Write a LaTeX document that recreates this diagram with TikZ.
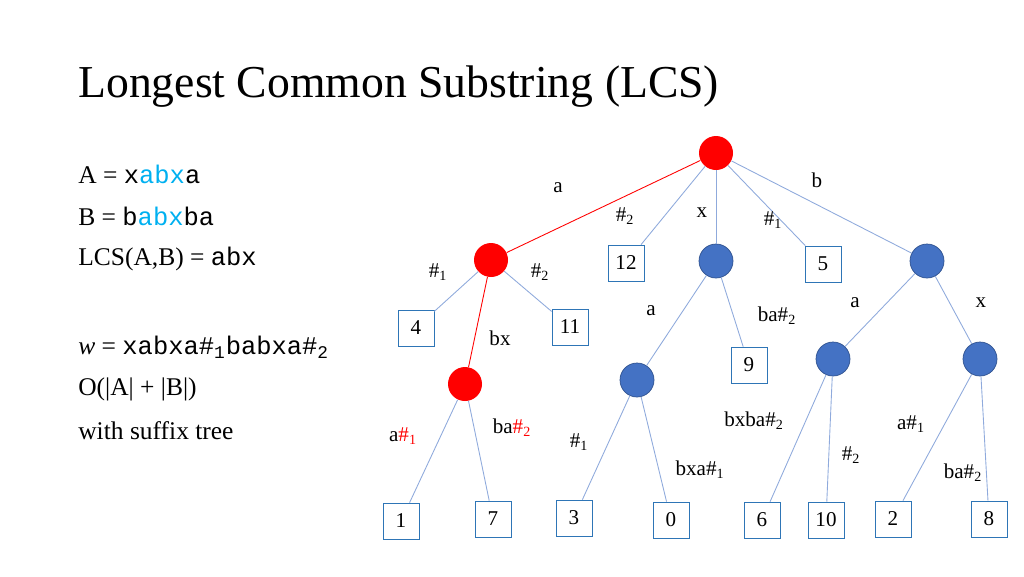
\documentclass[tikz,border=0pt]{standalone}
\usepackage{fontspec}
\setmainfont{Liberation Serif}
\setmonofont{Liberation Mono}
\begin{document}
\begin{tikzpicture}[x=0.02cm,y=-0.02cm,
  rn/.style={circle,fill=red,minimum size=0.68cm,inner sep=0},
  bn/.style={circle,fill={rgb,255:red,68;green,114;blue,196},draw={rgb,255:red,47;green,82;blue,143},minimum size=0.68cm,inner sep=0},
  lf/.style={draw={rgb,255:red,46;green,117;blue,182},minimum size=0.72cm,inner sep=0,font=\fontsize{12}{14}\selectfont},
  e/.style={draw={rgb,255:red,143;green,170;blue,220},line width=0.5pt},
  er/.style={draw=red,line width=0.5pt},
  lb/.style={font=\fontsize{12}{14}\selectfont,inner sep=1pt},
  tx/.style={anchor=west,font=\fontsize{14.5}{17}\selectfont,inner sep=0}]
\definecolor{lc}{RGB}{0,176,240}
\useasboundingbox (0,0) rectangle (1024,576);
\node[anchor=west,font=\fontsize{26}{31}\selectfont,inner sep=0] (title) at (78,87) {Longest Common Substring (LCS)};
\node[tx] (ta) at (78,174) {A = \texttt{x\textcolor{lc}{abx}a}};
\node[tx] (tb) at (78,216) {B = \texttt{b\textcolor{lc}{abx}ba}};
\node[tx] (tc) at (78,259) {LCS(A,B) = \texttt{abx}};
\node[tx] (tw) at (78,347) {\textit{w} = \texttt{xabxa\#\textsubscript{1}babxa\#\textsubscript{2}}};
\node[tx] (to) at (78,389) {O(|A| + |B|)};
\node[tx] (ts) at (78,431) {with suffix tree};
% internal nodes
\node[rn] (r) at (716,153) {};
\node[rn] (r1) at (491,260) {};
\node[rn] (r2) at (465,384) {};
\node[bn] (b1) at (716,261) {};
\node[bn] (b2) at (927,261) {};
\node[bn] (b3) at (637,380) {};
\node[bn] (b4) at (833,359) {};
\node[bn] (b5) at (980,359) {};
% leaves
\node[lf] (l12) at (626,263) {12};
\node[lf] (l5) at (823,264) {5};
\node[lf] (l4) at (416,328) {4};
\node[lf] (l11) at (570,327) {11};
\node[lf] (l9) at (749,365) {9};
\node[lf] (l1) at (401,521) {1};
\node[lf] (l7) at (493,519) {7};
\node[lf] (l3) at (574,518) {3};
\node[lf] (l0) at (671,520) {0};
\node[lf] (l6) at (762,520) {6};
\node[lf] (l10) at (826,520) {10};
\node[lf] (l2) at (893,519) {2};
\node[lf] (l8) at (989,519) {8};
% edges
\draw[er] (r) -- (r1);
\draw[er] (r1) -- (r2);
\draw[e] (r) -- (l12); \draw[e] (r) -- (b1); \draw[e] (r) -- (l5); \draw[e] (r) -- (b2);
\draw[e] (r1) -- (l4); \draw[e] (r1) -- (l11);
\draw[e] (r2) -- (l1); \draw[e] (r2) -- (l7);
\draw[e] (b1) -- (b3); \draw[e] (b1) -- (l9);
\draw[e] (b3) -- (l3); \draw[e] (b3) -- (l0);
\draw[e] (b2) -- (b4); \draw[e] (b2) -- (b5);
\draw[e] (b4) -- (l6); \draw[e] (b4) -- (l10);
\draw[e] (b5) -- (l2); \draw[e] (b5) -- (l8);
% labels
\node[lb] (q1) at (558,188) {a};
\node[lb] (q2) at (625,216) {\#\textsubscript{2}};
\node[lb] (q3) at (702,213) {x};
\node[lb] (q4) at (773,220) {\#\textsubscript{1}};
\node[lb] (q5) at (817,180) {b};
\node[lb] (q6) at (438,272) {\#\textsubscript{1}};
\node[lb] (q7) at (540,272) {\#\textsubscript{2}};
\node[lb] (q8) at (500,338) {bx};
\node[lb] (q9) at (651,311) {a};
\node[lb] (q10) at (777,316) {ba\#\textsubscript{2}};
\node[lb] (q11) at (855,303) {a};
\node[lb] (q12) at (981,303) {x};
\node[lb,text=black] (q13) at (403,436) {a\textcolor{red}{\#\textsubscript{1}}};
\node[lb,text=black] (q14) at (512,428) {ba\textcolor{red}{\#\textsubscript{2}}};
\node[lb] (q15) at (579,442) {\#\textsubscript{1}};
\node[lb] (q16) at (700,470) {bxa\#\textsubscript{1}};
\node[lb] (q17) at (754,421) {bxba\#\textsubscript{2}};
\node[lb] (q18) at (851,455) {\#\textsubscript{2}};
\node[lb] (q19) at (911,424) {a\#\textsubscript{1}};
\node[lb] (q20) at (963,473) {ba\#\textsubscript{2}};
\end{tikzpicture}
\end{document}
